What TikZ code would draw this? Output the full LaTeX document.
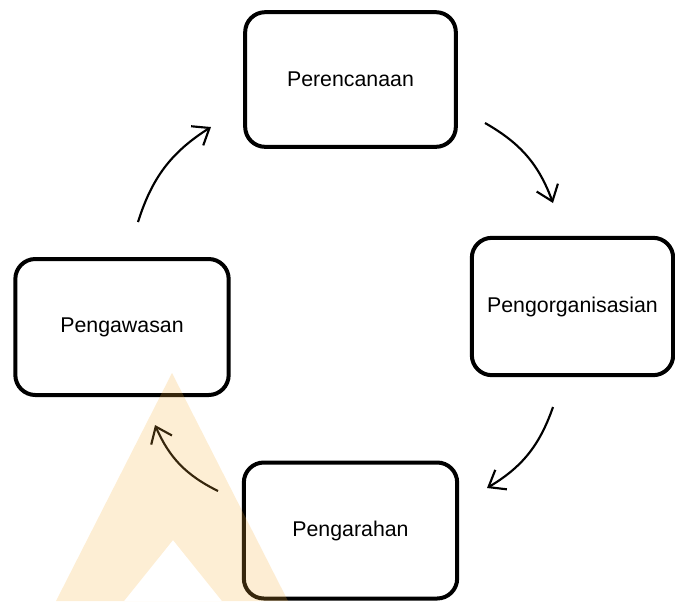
\documentclass[tikz,border=0pt]{standalone}
\usepackage{fontspec}
\setmainfont{Liberation Sans}
\usetikzlibrary{arrows.meta}
\definecolor{wmark}{RGB}{247,176,58}
\tikzset{
  stage/.style={draw,line width=3pt,rounded corners=15pt,fill=white,
    minimum width=158pt,minimum height=101pt,inner sep=2pt,
    font=\fontsize{16}{19}\selectfont},
  cycle/.style={line width=1.6pt,-{Straight Barb[length=11pt,width=17pt]},bend left=20}
}

\begin{document}
\begin{tikzpicture}[x=0.75pt,y=-0.75pt]
        \useasboundingbox (0,0) rectangle (675,601);
        % the four stages
        \node[stage] (plan) at (350.5,79.5) {Perencanaan};
        \node[stage,minimum width=151pt,minimum height=103pt] (org) at (572.5,306.5) {Pengorganisasian};
        \node[stage,minimum width=160pt,minimum height=102pt] (arah) at (350.5,530.5) {Pengarahan};
        \node[stage,minimum width=160pt,minimum height=102pt] (awas) at (122,327) {Pengawasan};
        % free ends of the arrows
        \coordinate (a1s) at (138,222); \coordinate (a1e) at (211,127);
        \coordinate (a2s) at (485,123); \coordinate (a2e) at (553,203);
        \coordinate (a3s) at (553,407); \coordinate (a3e) at (487,488);
        \coordinate (a4s) at (218,491); \coordinate (a4e) at (155,425);
        \draw[cycle] (a1s) to (a1e);
        \draw[cycle] (a2s) to (a2e);
        \draw[cycle] (a3s) to (a3e);
        \draw[cycle] (a4s) to (a4e);
        % watermark
        \fill[wmark,opacity=.22,even odd rule] (172,373) -- (288,601) -- (56,601) -- cycle
          (173,540) -- (222,601) -- (124,601) -- cycle;
      \end{tikzpicture}
\end{document}
